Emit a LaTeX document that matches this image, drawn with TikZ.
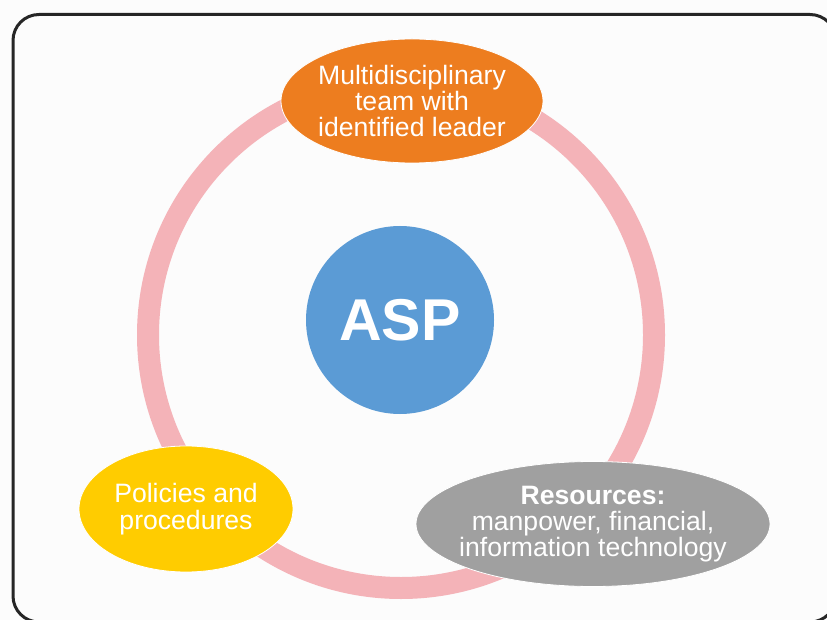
\documentclass[tikz,border=0pt]{standalone}
\usepackage{fontspec}
\setmainfont{Liberation Sans}
\usetikzlibrary{shapes.geometric}
\definecolor{ringpink}{HTML}{F4B3B8}
\definecolor{orangeF}{HTML}{ED7D1F}
\definecolor{yellowF}{HTML}{FFCC00}
\definecolor{grayF}{HTML}{A0A0A0}
\definecolor{blueF}{HTML}{5B9BD5}
\definecolor{frameC}{HTML}{262626}
\tikzset{
  bubble/.style={ellipse, draw=white, line width=0.8pt, inner xsep=-60pt, inner ysep=-10pt,
    text=white, align=center, font=\fontsize{26.6}{26.3}\selectfont},
}
\begin{document}
\begin{tikzpicture}[x=1pt,y=-1pt]
\useasboundingbox (0,0) rectangle (827,620);
\fill[white!99!black] (0,0) rectangle (827,620);
\draw[frameC, line width=3pt, rounded corners=26pt] (13,14.5) rectangle (836,622);
\draw[ringpink, line width=22pt] (401,335) circle[radius=253];
\node[bubble, fill=orangeF, minimum width=262pt, minimum height=124pt] (team) at (412,101)
  {Multidisciplinary\\team with\\identified leader};
\node[bubble, fill=yellowF, minimum width=214pt, minimum height=126pt] (pol) at (186,509)
  {Policies and\\procedures};
\node[bubble, fill=grayF, minimum width=354pt, minimum height=125pt] (res) at (593,524)
  {\textbf{Resources:}\\manpower, financial,\\information technology};
\node[circle, fill=blueF, minimum size=188pt, inner sep=0pt, text=white,
  font=\fontsize{59}{59}\selectfont\bfseries] (asp) at (400,320) {ASP};
\end{tikzpicture}
\end{document}
